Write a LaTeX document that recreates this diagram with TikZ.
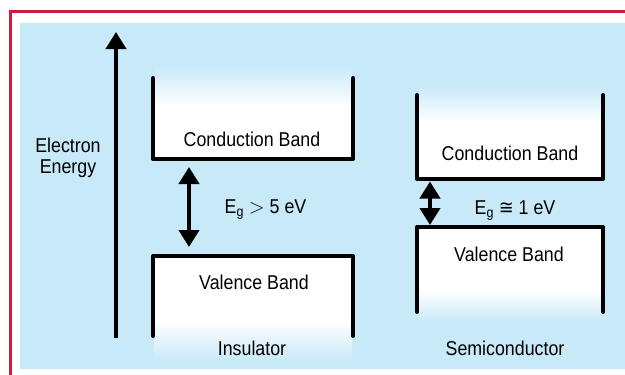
\documentclass[tikz,border=0pt]{standalone}
\usepackage{fontspec}
\setmainfont[FakeStretch=0.89]{Liberation Sans}
\newfontfamily\symfont[FakeStretch=0.89]{DejaVu Sans}
\usetikzlibrary{arrows.meta}
\definecolor{bgblue}{RGB}{199,233,248}
\definecolor{framered}{RGB}{200,30,60}
\begin{document}
\begin{tikzpicture}[x=1pt,y=-1pt,
  lbl/.style={font=\fontsize{20}{21}\selectfont, inner sep=0pt, anchor=base, align=center},
  bandline/.style={line width=4pt, line cap=round, line join=round},
  gaparrow/.style={line width=4pt, {Triangle[length=17pt,width=20pt]}-{Triangle[length=17pt,width=20pt]}},
  axisarrow/.style={line width=4pt, -{Triangle[length=17pt,width=20pt]}}]
\useasboundingbox (0,0) rectangle (625,375);
\clip (0,0) rectangle (625,375);
% background and frame
\fill[bgblue] (20,23) rectangle (625,369);
\draw[framered, line width=2.5pt] (10.5,400) -- (10.5,11.5) -- (660,11.5);
% insulator bands (white interiors)
\shade[top color=bgblue, bottom color=white] (154,65) rectangle (352,107);
\fill[white] (154,106.5) rectangle (352,158);
\fill[white] (154,256) rectangle (352,320.5);
\shade[top color=white, bottom color=bgblue] (154,320) rectangle (352,362);
% semiconductor bands
\shade[top color=bgblue, bottom color=white] (418,85) rectangle (601,122);
\fill[white] (418,121.5) rectangle (601,179);
\fill[white] (418,227) rectangle (601,290.5);
\shade[top color=white, bottom color=bgblue] (418,290) rectangle (601,322);
% band outlines
\draw[bandline] (153,78) -- (153,159) -- (353,159) -- (353,78);
\draw[bandline] (153,336) -- (153,256) -- (353,256) -- (353,336);
\draw[bandline] (417,95) -- (417,179) -- (603,179) -- (603,95);
\draw[bandline] (417,312) -- (417,227) -- (603,227) -- (603,312);
% energy axis
\coordinate (ax0) at (116,338);
\coordinate (ax1) at (116,32);
\draw[axisarrow] (ax0) -- (ax1);
% gap arrows
\coordinate (ig1) at (189,167);
\coordinate (ig2) at (189,247);
\draw[gaparrow] (ig1) -- (ig2);
\coordinate (sg1) at (430,181.5);
\coordinate (sg2) at (430,225);
\draw[gaparrow] (sg1) -- (sg2);
% labels
\node[lbl] (energy) at (68,173.5) {Electron\\Energy};
\node[lbl] (icb) at (252,146) {Conduction Band};
\node[lbl] (ivb) at (254,289) {Valence Band};
\node[lbl] (ieg) at (265.5,213) {E\textsubscript{g} $>$ 5 eV};
\node[lbl] (scb) at (510,160.5) {Conduction Band};
\node[lbl] (svb) at (509,261) {Valence Band};
\node[lbl] (seg) at (515,214) {E\textsubscript{g} {\symfont ≅} 1 eV};
\node[lbl] (ins) at (252,355) {Insulator};
\node[lbl] (semi) at (505,355) {Semiconductor};
\end{tikzpicture}
\end{document}
